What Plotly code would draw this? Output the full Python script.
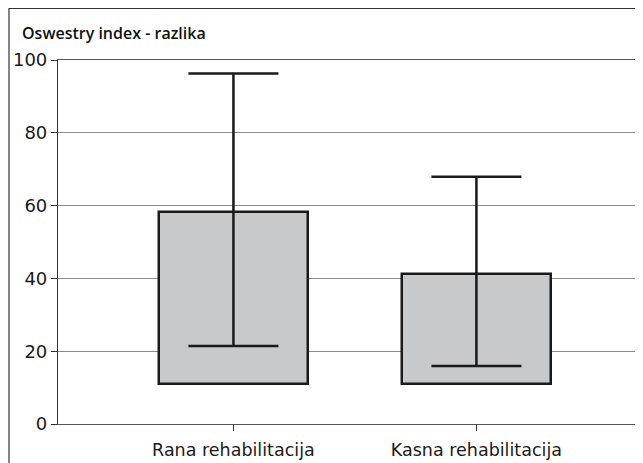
import plotly.graph_objects as go

categories = ["Rana rehabilitacija", "Kasna rehabilitacija"]
box_low = [11.0, 11.0]
box_high = [58.2, 41.2]
whisker_low = [21.4, 15.9]
whisker_high = [96.3, 67.9]
y_ticks = [0, 20, 40, 60, 80, 100]

xpos = list(range(len(categories)))
font = "'DejaVu Sans', 'Noto Sans', sans-serif"

# page body has an 8px margin, so the figure is laid out 8px smaller
W, H = 635, 455
L, T, PW, PH = 50, 52, 580, 364

fig = go.Figure()

fig.add_trace(go.Bar(
    x=xpos,
    base=box_low,
    y=[h - l for h, l in zip(box_high, box_low)],
    width=0.613,
    marker=dict(color="#c8c9cb", line=dict(color="#1a1a1a", width=2.5)),
    showlegend=False,
    hoverinfo="skip",
))

# whisker: error bar anchored on the box top
fig.add_trace(go.Scatter(
    x=xpos,
    y=box_high,
    mode="markers",
    marker=dict(size=1, opacity=0),
    error_y=dict(
        type="data",
        symmetric=False,
        array=[h - t for h, t in zip(whisker_high, box_high)],
        arrayminus=[t - l for t, l in zip(box_high, whisker_low)],
        color="#1a1a1a",
        thickness=2.5,
        width=45,
    ),
    showlegend=False,
    hoverinfo="skip",
))

fig.update_layout(
    width=W,
    height=H,
    margin=dict(l=L, r=W - L - PW, t=T, b=H - T - PH),
    paper_bgcolor="white",
    plot_bgcolor="white",
    font=dict(family=font, size=16, color="#1a1a1a"),
    title=dict(
        text="Oswestry index - razlika",
        x=14 / W, xanchor="left", xref="container",
        y=1 - 25 / H, yanchor="middle", yref="container",
        font=dict(family="'Open Sans', sans-serif", size=16, color="#111", weight=600),
    ),
    bargap=0,
    shapes=[dict(
        type="rect", xref="paper", yref="paper",
        x0=(1 - L) / PW, x1=(W + 10 - L) / PW,
        y0=-0.3, y1=(T + PH - 0.5) / PH,
        line=dict(color="#333", width=1.2),
        fillcolor="rgba(0,0,0,0)", layer="below",
    )],
)

fig.update_xaxes(
    range=[-0.722, 1.665],
    tickvals=xpos,
    ticktext=categories,
    ticks="outside",
    ticklen=6,
    tickcolor="#333",
    showgrid=False,
    zeroline=False,
    showline=True,
    linecolor="#555",
    linewidth=1.2,
    mirror=True,
    tickfont=dict(size=17.5),
    ticklabelstandoff=4,
    automargin=False,
)

fig.update_yaxes(
    range=[0, 100],
    tickvals=y_ticks,
    ticks="outside",
    ticklen=6,
    tickcolor="#333",
    showgrid=True,
    gridcolor="#8a8a8a",
    gridwidth=1.2,
    zeroline=False,
    showline=True,
    linecolor="#333",
    linewidth=1.2,
    mirror=True,
    tickfont=dict(size=18),
    automargin=False,
)

fig.write_html("out.html")
